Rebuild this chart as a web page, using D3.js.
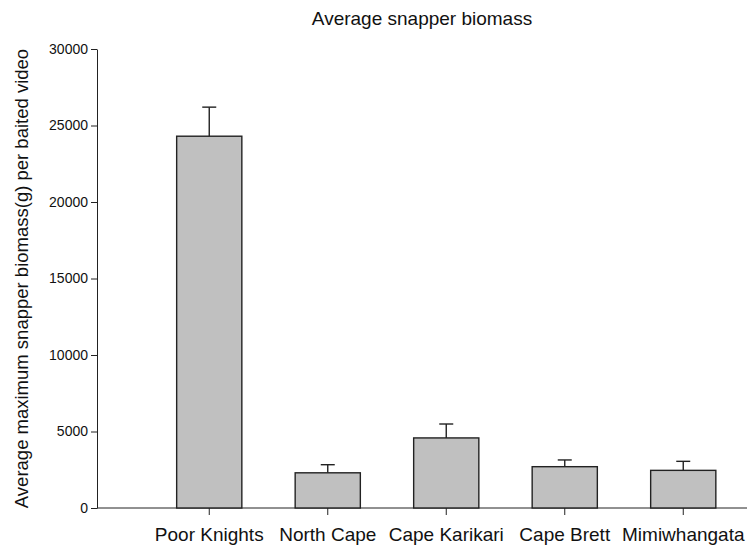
<!DOCTYPE html>
<html>
<head>
<meta charset="utf-8">
<script src="https://cdn.jsdelivr.net/npm/d3@7"></script>
<style>
  body { margin: 0; background: #fff; }
  svg { font-family: "Liberation Sans", Arial, sans-serif; }
</style>
</head>
<body>
<div id="chart"></div>
<script>
const sites = ["Poor Knights", "North Cape", "Cape Karikari", "Cape Brett", "Mimiwhangata"];
const biomass = [24300, 2300, 4580, 2700, 2460];
const errors = [1900, 530, 910, 440, 590];
const yTicks = [0, 5000, 10000, 15000, 20000, 25000, 30000];

const W = 747, H = 545;
const margin = {top: 49, right: 0, bottom: 37, left: 97};

const svg = d3.select("#chart").append("svg")
  .attr("width", W)
  .attr("height", H);

let x = d3.scaleBand()
  .domain(sites)
  .range([150, 742.5])
  .paddingInner(0.45)
  .paddingOuter(0.225);

let y = d3.scaleLinear()
  .domain([0, 30000])
  .range([H - margin.bottom, margin.top]);

// title
svg.append("text")
  .attr("x", (margin.left + W) / 2)
  .attr("y", 25)
  .attr("text-anchor", "middle")
  .style("font-size", "19px")
  .attr("fill", "#111")
  .text("Average snapper biomass");

// y axis
let yAxis = svg.append("g")
  .attr("transform", "translate(" + margin.left + ",0)")
  .call(d3.axisLeft(y).tickValues(yTicks).tickFormat(d3.format("d")).tickSize(6).tickPadding(3).tickSizeOuter(0));
yAxis.selectAll("text").style("font-size", "14px").attr("fill", "#111");
yAxis.selectAll("line, path").attr("stroke", "#222");

svg.append("text")
  .attr("transform", "translate(28," + (y(15000)) + ") rotate(-90)")
  .attr("text-anchor", "middle")
  .style("font-size", "18.5px")
  .attr("fill", "#111")
  .text("Average maximum snapper biomass(g) per baited video");

// x axis
let xAxis = svg.append("g")
  .attr("transform", "translate(0," + y(0) + ")");
xAxis.append("line")
  .attr("x1", margin.left).attr("x2", W)
  .attr("stroke", "#222");
xAxis.selectAll(".tick")
  .data(sites)
  .enter().append("g")
  .attr("class", "tick")
  .attr("transform", d => "translate(" + (x(d) + x.bandwidth() / 2) + ",0)")
  .each(function(d) {
    let g = d3.select(this);
    g.append("line").attr("y2", 7).attr("stroke", "#222");
    g.append("text")
      .attr("y", 33)
      .attr("text-anchor", "middle")
      .style("font-size", "19px")
      .attr("fill", "#111")
      .text(d);
  });

// error bars (behind bars)
let err = svg.append("g").attr("stroke", "#222").attr("stroke-width", 1.4);
sites.forEach(function(s, i) {
  let cx = x(s) + x.bandwidth() / 2;
  err.append("line")
    .attr("x1", cx).attr("x2", cx)
    .attr("y1", y(biomass[i])).attr("y2", y(biomass[i] + errors[i]));
  err.append("line")
    .attr("x1", cx - 7).attr("x2", cx + 7)
    .attr("y1", y(biomass[i] + errors[i])).attr("y2", y(biomass[i] + errors[i]));
});

// bars
svg.append("g").selectAll("rect")
  .data(sites)
  .enter().append("rect")
  .attr("x", d => x(d))
  .attr("width", x.bandwidth())
  .attr("y", (d, i) => y(biomass[i]))
  .attr("height", (d, i) => y(0) - y(biomass[i]))
  .attr("fill", "#c0c0c0")
  .attr("stroke", "#222")
  .attr("stroke-width", 1.4);
</script>
</body>
</html>
